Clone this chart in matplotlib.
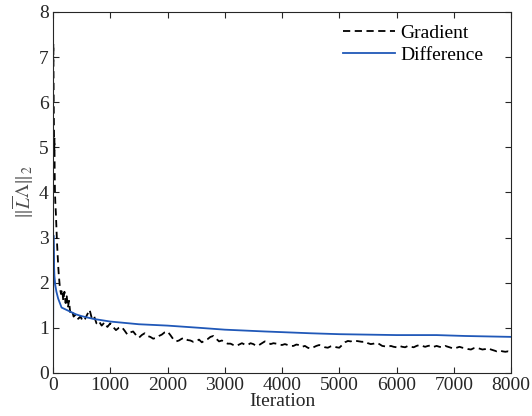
import matplotlib
matplotlib.use("Agg")
import matplotlib.pyplot as plt

plt.rcParams['font.family'] = ['Liberation Serif', 'DejaVu Serif']
plt.rcParams['mathtext.fontset'] = 'stix'

# Gradient (black dashed, noisy): dense early part, then one reading every 50 iterations
grad_iter_early = [0, 3, 6, 9, 12, 15, 18, 21, 25, 30, 35, 40, 50, 60, 70, 80, 90, 100, 110, 120,
                   140, 160, 180, 200, 220, 240, 260, 280, 300, 330, 360, 400, 440, 480,
                   520, 560, 600, 640, 680, 720, 760, 800, 850, 900, 950]
grad_val_early = [7.45, 6.9, 7.3, 6.5, 6.1, 5.6, 5.35, 4.9, 5.2, 4.4, 4.0, 3.8, 3.55, 3.2, 2.9, 2.65, 2.4, 2.2, 2.05, 1.9,
                  1.75, 1.85, 1.6, 1.8, 1.55, 1.7, 1.45, 1.6, 1.35, 1.4, 1.25, 1.3, 1.2, 1.25, 1.15,
                  1.2, 1.3, 1.4, 1.2, 1.25, 1.1, 1.15, 1.05, 1.12, 1.02]
grad_iter_late = list(range(1000, 8001, 50))
grad_val_late = [
    1.10, 1.02, 0.95, 1.00, 1.02, 0.94, 0.85, 0.90, 0.92, 0.84, 0.78, 0.84, 0.88, 0.82,   # 1000-1650
    0.80, 0.76, 0.78, 0.82, 0.85, 0.90, 0.92, 0.84, 0.75, 0.70, 0.72, 0.76, 0.78, 0.73,   # 1700-2350
    0.72, 0.69, 0.70, 0.74, 0.68, 0.72, 0.75, 0.80, 0.82, 0.76, 0.70, 0.72, 0.68, 0.65,   # 2400-3050
    0.65, 0.62, 0.60, 0.63, 0.66, 0.63, 0.62, 0.66, 0.64, 0.60, 0.62, 0.66, 0.70, 0.68,   # 3100-3750
    0.64, 0.66, 0.65, 0.63, 0.62, 0.64, 0.62, 0.60, 0.60, 0.63, 0.62, 0.58, 0.60, 0.56,   # 3800-4450
    0.54, 0.57, 0.60, 0.62, 0.60, 0.57, 0.56, 0.59, 0.60, 0.57, 0.56, 0.62, 0.68, 0.71,   # 4500-5150
    0.70, 0.72, 0.71, 0.70, 0.69, 0.70, 0.66, 0.64, 0.65, 0.67, 0.64, 0.60, 0.59, 0.58,   # 5200-5850
    0.60, 0.58, 0.57, 0.60, 0.58, 0.57, 0.60, 0.58, 0.57, 0.60, 0.62, 0.60, 0.58, 0.60,   # 5900-6550
    0.61, 0.58, 0.60, 0.58, 0.57, 0.60, 0.58, 0.56, 0.54, 0.56, 0.58, 0.56, 0.55, 0.53,   # 6600-7250
    0.52, 0.55, 0.56, 0.54, 0.52, 0.53, 0.55, 0.52, 0.50, 0.48, 0.50, 0.48, 0.47, 0.48,   # 7300-7950
    0.47]                                                                                 # 8000
grad_iter = grad_iter_early + grad_iter_late
grad_val = grad_val_early + grad_val_late

# Difference (blue, smooth)
diff_iter = [0, 8, 15, 25, 40, 60, 90, 120, 150, 200, 300, 400, 500, 700, 1000,
             1500, 2000, 2568, 3000, 3700, 4500, 5000, 6000, 6700, 7200, 8000]
diff_val = [0.0, 3.05, 2.5, 2.15, 1.95, 1.8, 1.65, 1.55, 1.45, 1.42, 1.36, 1.3, 1.26, 1.2, 1.14,
            1.08, 1.05, 1.0, 0.96, 0.92, 0.88, 0.86, 0.84, 0.84, 0.82, 0.8]

fig = plt.figure(figsize=(5.32, 4.16), dpi=100)
ax = fig.add_axes([0.0996, 0.1034, 0.861, 0.8678])

ax.plot(grad_iter, grad_val, color='black', linestyle=(0, (4, 2.5)), linewidth=1.3, label='Gradient')
ax.plot(diff_iter, diff_val, color='#2058b8', linewidth=1.3, label='Difference')

ax.set_xlim(0, 8000)
ax.set_ylim(0, 8)
ax.set_xticks(range(0, 8001, 1000))
ax.set_yticks(range(0, 9))

axcol = '#262626'
for s in ax.spines.values():
    s.set_color(axcol)
    s.set_linewidth(0.8)
ax.tick_params(direction='in', top=True, right=True, length=4, width=0.8,
               colors=axcol, labelsize=14, pad=3)

ax.set_xlabel('Iteration', fontsize=14, color=axcol, labelpad=-1)
ax.set_ylabel(r'$\Vert\overline{L}\Lambda\Vert_2$', fontsize=14, color='#505050', labelpad=2)

ax.legend(loc='upper right', bbox_to_anchor=(0.977, 1.015), frameon=False, fontsize=14,
          handlelength=2.7, handletextpad=0.25, labelspacing=0.25)

fig.savefig('out.png', dpi=100)
